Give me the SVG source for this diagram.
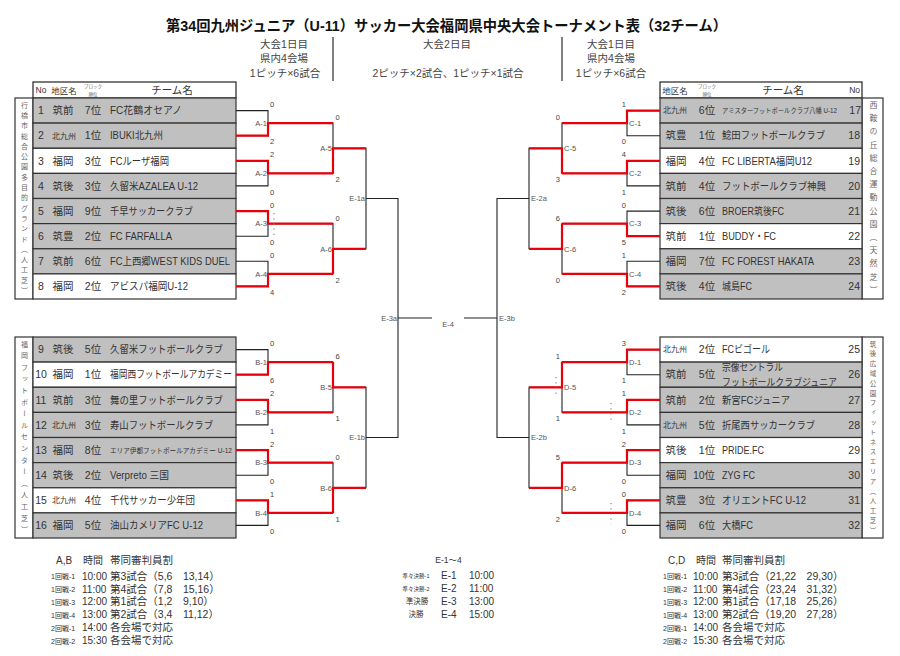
<svg xmlns="http://www.w3.org/2000/svg" width="900" height="656" viewBox="0 0 900 656">
<style>
text{font-family:"Liberation Sans","Noto Sans CJK JP",sans-serif;fill:#333}
.title{font-size:14.5px;font-weight:bold;fill:#111}
.sub{font-size:10.5px;fill:#444;text-anchor:middle}
.sep{stroke:#555;stroke-width:1.5}
.hd{fill:#fff;stroke:#222;stroke-width:1.2}
.g{fill:#c0c0c0;stroke:#333;stroke-width:1.2}
.w{fill:#fff;stroke:#333;stroke-width:1.2}
.c{font-size:10.5px}
.m{text-anchor:middle}
.e{text-anchor:end}
.kk{font-size:8px}
.tn{font-size:7px}
.hs{font-size:8.5px}
.hx{font-size:4.5px;fill:#666;text-anchor:middle}
.vt{writing-mode:vertical-rl;font-size:7px;fill:#666}
.blk{fill:none;stroke:#222;stroke-width:1.1}
.red{fill:none;stroke:#e8000b;stroke-width:2.2}
.sc{font-size:7.5px;fill:#444}
.ml{font-size:7.5px;fill:#555}
.pk{stroke:#888;stroke-width:1.2;stroke-dasharray:1.2 4}
.ft{font-size:10.5px}
.tm{font-size:10px}
.fs{font-size:7px}
</style>

<g id="header">
<text class="title" x="446.5" y="30.5" text-anchor="middle" textLength="561" lengthAdjust="spacingAndGlyphs">第34回九州ジュニア（U-11）サッカー大会福岡県中央大会トーナメント表（32チーム）</text>
<text class="sub" x="284" y="47.5">大会1日目</text>
<text class="sub" x="284" y="62">県内4会場</text>
<text class="sub" x="285" y="76.5">1ピッチ×6試合</text>
<text class="sub" x="447" y="47.5">大会2日目</text>
<text class="sub" x="448" y="76.5">2ピッチ×2試合、1ピッチ×1試合</text>
<text class="sub" x="611" y="47.5">大会1日目</text>
<text class="sub" x="611" y="62">県内4会場</text>
<text class="sub" x="611" y="76.5">1ピッチ×6試合</text>
<line class="sep" x1="333" y1="37" x2="333" y2="81"/>
<line class="sep" x1="562" y1="37" x2="562" y2="81"/>
</g>

<g id="table-head-left">
<rect class="hd" x="33" y="82" width="203" height="16"/>
<text class="hs" x="35.5" y="93">No</text>
<text class="hs m" x="64" y="93.5">地区名</text>
<text class="hx" x="93" y="87.5">ブロック</text>
<text class="hx" x="93" y="96">順位</text>
<text class="c m" x="172" y="94">チーム名</text>
</g>
<g id="table-head-right">
<rect class="hd" x="660" y="82" width="202" height="16"/>
<text class="hs m" x="675" y="93.5">地区名</text>
<text class="hx" x="707" y="87.5">ブロック</text>
<text class="hx" x="707" y="96">順位</text>
<text class="c m" x="783" y="94">チーム名</text>
<text class="hs e" x="860" y="93">No</text>
</g>

<g id="venue-a">
<rect class="w" x="15" y="98" width="18" height="201"/>
<text class="vt" x="24" y="101.5" style="letter-spacing:3.3px">行橋市総合公園多目的グランド（人工芝）</text>
</g>
<g id="venue-b">
<rect class="w" x="15" y="337" width="18" height="201"/>
<text class="vt" x="24" y="340.5" style="letter-spacing:4.6px">福岡フットボールセンター（人工芝）</text>
</g>
<g id="venue-c">
<rect class="w" x="862" y="98" width="21" height="201"/>
<text class="vt" x="872.5" y="101" style="letter-spacing:5.2px;font-size:8px">西鞍の丘総合運動公園（天然芝）</text>
</g>
<g id="venue-d">
<rect class="w" x="862" y="337" width="21" height="201"/>
<text class="vt" x="872.5" y="340.8" style="letter-spacing:3.3px;font-size:6.5px">筑後広域公園フィットネスエリア（人工芝）</text>
</g>

<!-- Left top teams -->
<g id="team-1"><rect class="g" x="33" y="98" width="203" height="25.1"/><text class="c m" x="41" y="114.3">1</text><text class="c m" x="63" y="114.3">筑前</text><text class="c m" x="93" y="114.3">7位</text><text class="c" x="110" y="114.3" textLength="72" lengthAdjust="spacingAndGlyphs">FC花鶴オセアノ</text></g>
<g id="team-2"><rect class="g" x="33" y="123.1" width="203" height="25.1"/><text class="c m" x="41" y="139.4">2</text><text class="kk m" x="64" y="138.5">北九州</text><text class="c m" x="93" y="139.4">1位</text><text class="c" x="110" y="139.4" textLength="53" lengthAdjust="spacingAndGlyphs">IBUKI北九州</text></g>
<g id="team-3"><rect class="w" x="33" y="148.3" width="203" height="25.1"/><text class="c m" x="41" y="164.5">3</text><text class="c m" x="63" y="164.5">福岡</text><text class="c m" x="93" y="164.5">3位</text><text class="c" x="110" y="164.5" textLength="59" lengthAdjust="spacingAndGlyphs">FCルーザ福岡</text></g>
<g id="team-4"><rect class="g" x="33" y="173.4" width="203" height="25.1"/><text class="c m" x="41" y="189.6">4</text><text class="c m" x="63" y="189.6">筑後</text><text class="c m" x="93" y="189.6">3位</text><text class="c" x="110" y="189.6" textLength="88" lengthAdjust="spacingAndGlyphs">久留米AZALEA U-12</text></g>
<g id="team-5"><rect class="g" x="33" y="198.5" width="203" height="25.1"/><text class="c m" x="41" y="214.8">5</text><text class="c m" x="63" y="214.8">福岡</text><text class="c m" x="93" y="214.8">9位</text><text class="c" x="110" y="214.8" textLength="83" lengthAdjust="spacingAndGlyphs">千早サッカークラブ</text></g>
<g id="team-6"><rect class="g" x="33" y="223.6" width="203" height="25.1"/><text class="c m" x="41" y="239.9">6</text><text class="c m" x="63" y="239.9">筑豊</text><text class="c m" x="93" y="239.9">2位</text><text class="c" x="110" y="239.9" textLength="62" lengthAdjust="spacingAndGlyphs">FC FARFALLA</text></g>
<g id="team-7"><rect class="g" x="33" y="248.8" width="203" height="25.1"/><text class="c m" x="41" y="265">7</text><text class="c m" x="63" y="265">筑前</text><text class="c m" x="93" y="265">6位</text><text class="c" x="110" y="265" textLength="120" lengthAdjust="spacingAndGlyphs">FC上西郷WEST KIDS DUEL</text></g>
<g id="team-8"><rect class="w" x="33" y="273.9" width="203" height="25.1"/><text class="c m" x="41" y="290.1">8</text><text class="c m" x="63" y="290.1">福岡</text><text class="c m" x="93" y="290.1">2位</text><text class="c" x="110" y="290.1" textLength="78" lengthAdjust="spacingAndGlyphs">アビスパ福岡U-12</text></g>

<!-- Left bottom teams -->
<g id="team-9"><rect class="g" x="33" y="337" width="203" height="25.1"/><text class="c m" x="41" y="353.3">9</text><text class="c m" x="63" y="353.3">筑後</text><text class="c m" x="93" y="353.3">5位</text><text class="c" x="110" y="353.3" textLength="113" lengthAdjust="spacingAndGlyphs">久留米フットボールクラブ</text></g>
<g id="team-10"><rect class="w" x="33" y="362.1" width="203" height="25.1"/><text class="c m" x="41" y="378.4">10</text><text class="c m" x="63" y="378.4">福岡</text><text class="c m" x="93" y="378.4">1位</text><text class="c" x="110" y="378.4" textLength="122" lengthAdjust="spacingAndGlyphs">福岡西フットボールアカデミー</text></g>
<g id="team-11"><rect class="g" x="33" y="387.3" width="203" height="25.1"/><text class="c m" x="41" y="403.5">11</text><text class="c m" x="63" y="403.5">筑前</text><text class="c m" x="93" y="403.5">3位</text><text class="c" x="110" y="403.5" textLength="113" lengthAdjust="spacingAndGlyphs">舞の里フットボールクラブ</text></g>
<g id="team-12"><rect class="g" x="33" y="412.4" width="203" height="25.1"/><text class="c m" x="41" y="428.6">12</text><text class="kk m" x="64" y="427.7">北九州</text><text class="c m" x="93" y="428.6">3位</text><text class="c" x="110" y="428.6" textLength="103" lengthAdjust="spacingAndGlyphs">寿山フットボールクラブ</text></g>
<g id="team-13"><rect class="g" x="33" y="437.5" width="203" height="25.1"/><text class="c m" x="41" y="453.8">13</text><text class="c m" x="63" y="453.8">福岡</text><text class="c m" x="93" y="453.8">8位</text><text class="tn" x="110" y="452.6" textLength="122" lengthAdjust="spacingAndGlyphs">エリア伊都フットボールアカデミー U-12</text></g>
<g id="team-14"><rect class="g" x="33" y="462.6" width="203" height="25.1"/><text class="c m" x="41" y="478.9">14</text><text class="c m" x="63" y="478.9">筑後</text><text class="c m" x="93" y="478.9">2位</text><text class="c" x="110" y="478.9" textLength="59" lengthAdjust="spacingAndGlyphs">Verpreto 三国</text></g>
<g id="team-15"><rect class="w" x="33" y="487.8" width="203" height="25.1"/><text class="c m" x="41" y="504">15</text><text class="kk m" x="64" y="503.1">北九州</text><text class="c m" x="93" y="504">4位</text><text class="c" x="110" y="504" textLength="85" lengthAdjust="spacingAndGlyphs">千代サッカー少年団</text></g>
<g id="team-16"><rect class="g" x="33" y="512.9" width="203" height="25.1"/><text class="c m" x="41" y="529.1">16</text><text class="c m" x="63" y="529.1">福岡</text><text class="c m" x="93" y="529.1">5位</text><text class="c" x="110" y="529.1" textLength="93" lengthAdjust="spacingAndGlyphs">油山カメリアFC U-12</text></g>

<!-- Right top teams -->
<g id="team-17"><rect class="g" x="660" y="98" width="202" height="25.1"/><text class="kk m" x="675" y="113.4">北九州</text><text class="c m" x="707" y="114.3">6位</text><text x="722" y="113" style="font-size:6.5px" textLength="115" lengthAdjust="spacingAndGlyphs">アミスターフットボールクラブ八幡 U-12</text><text class="c e" x="861" y="114.3">17</text></g>
<g id="team-18"><rect class="g" x="660" y="123.1" width="202" height="25.1"/><text class="c m" x="676" y="139.4">筑豊</text><text class="c m" x="707" y="139.4">1位</text><text class="c" x="722" y="139.4" textLength="103" lengthAdjust="spacingAndGlyphs">鯰田フットボールクラブ</text><text class="c e" x="860" y="139.4">18</text></g>
<g id="team-19"><rect class="w" x="660" y="148.3" width="202" height="25.1"/><text class="c m" x="676" y="164.5">福岡</text><text class="c m" x="707" y="164.5">4位</text><text class="c" x="722" y="164.5" textLength="90" lengthAdjust="spacingAndGlyphs">FC LIBERTA福岡U12</text><text class="c e" x="860" y="164.5">19</text></g>
<g id="team-20"><rect class="g" x="660" y="173.4" width="202" height="25.1"/><text class="c m" x="676" y="189.6">筑前</text><text class="c m" x="707" y="189.6">4位</text><text class="c" x="722" y="189.6" textLength="104" lengthAdjust="spacingAndGlyphs">フットボールクラブ神興</text><text class="c e" x="860" y="189.6">20</text></g>
<g id="team-21"><rect class="g" x="660" y="198.5" width="202" height="25.1"/><text class="c m" x="676" y="214.8">筑後</text><text class="c m" x="707" y="214.8">6位</text><text class="c" x="722" y="214.8" textLength="62" lengthAdjust="spacingAndGlyphs">BROER筑後FC</text><text class="c e" x="860" y="214.8">21</text></g>
<g id="team-22"><rect class="w" x="660" y="223.6" width="202" height="25.1"/><text class="c m" x="676" y="239.9">筑前</text><text class="c m" x="707" y="239.9">1位</text><text class="c" x="722" y="239.9" textLength="54" lengthAdjust="spacingAndGlyphs">BUDDY・FC</text><text class="c e" x="860" y="239.9">22</text></g>
<g id="team-23"><rect class="g" x="660" y="248.8" width="202" height="25.1"/><text class="c m" x="676" y="265">福岡</text><text class="c m" x="707" y="265">7位</text><text class="c" x="722" y="265" textLength="92" lengthAdjust="spacingAndGlyphs">FC FOREST HAKATA</text><text class="c e" x="860" y="265">23</text></g>
<g id="team-24"><rect class="g" x="660" y="273.9" width="202" height="25.1"/><text class="c m" x="676" y="290.1">筑後</text><text class="c m" x="707" y="290.1">4位</text><text class="c" x="722" y="290.1" textLength="30" lengthAdjust="spacingAndGlyphs">城島FC</text><text class="c e" x="860" y="290.1">24</text></g>

<!-- Right bottom teams -->
<g id="team-25"><rect class="w" x="660" y="337" width="202" height="25.1"/><text class="kk m" x="675" y="352.4">北九州</text><text class="c m" x="707" y="353.3">2位</text><text class="c" x="722" y="353.3" textLength="48" lengthAdjust="spacingAndGlyphs">FCビゴール</text><text class="c e" x="860" y="353.3">25</text></g>
<g id="team-26"><rect class="g" x="660" y="362.1" width="202" height="25.1"/><text class="c m" x="676" y="378.4">筑前</text><text class="c m" x="707" y="378.4">5位</text><text class="c" x="722" y="370.8" style="font-size:10px" textLength="61" lengthAdjust="spacingAndGlyphs">宗像セントラル</text><text class="c" x="722" y="385.6" style="font-size:10px" textLength="115" lengthAdjust="spacingAndGlyphs">フットボールクラブジュニア</text><text class="c e" x="860" y="378.4">26</text></g>
<g id="team-27"><rect class="g" x="660" y="387.3" width="202" height="25.1"/><text class="c m" x="676" y="403.5">筑前</text><text class="c m" x="707" y="403.5">2位</text><text class="c" x="722" y="403.5" textLength="68" lengthAdjust="spacingAndGlyphs">新宮FCジュニア</text><text class="c e" x="860" y="403.5">27</text></g>
<g id="team-28"><rect class="g" x="660" y="412.4" width="202" height="25.1"/><text class="kk m" x="675" y="427.7">北九州</text><text class="c m" x="707" y="428.6">5位</text><text class="c" x="722" y="428.6" textLength="93" lengthAdjust="spacingAndGlyphs">折尾西サッカークラブ</text><text class="c e" x="860" y="428.6">28</text></g>
<g id="team-29"><rect class="w" x="660" y="437.5" width="202" height="25.1"/><text class="c m" x="676" y="453.8">筑後</text><text class="c m" x="707" y="453.8">1位</text><text class="c" x="722" y="453.8" textLength="42" lengthAdjust="spacingAndGlyphs">PRIDE.FC</text><text class="c e" x="860" y="453.8">29</text></g>
<g id="team-30"><rect class="g" x="660" y="462.6" width="202" height="25.1"/><text class="c m" x="676" y="478.9">福岡</text><text class="c m" x="704" y="478.9">10位</text><text class="c" x="722" y="478.9" textLength="33" lengthAdjust="spacingAndGlyphs">ZYG FC</text><text class="c e" x="860" y="478.9">30</text></g>
<g id="team-31"><rect class="g" x="660" y="487.8" width="202" height="25.1"/><text class="c m" x="676" y="504">筑豊</text><text class="c m" x="707" y="504">3位</text><text class="c" x="722" y="504" textLength="84" lengthAdjust="spacingAndGlyphs">オリエントFC U-12</text><text class="c e" x="860" y="504">31</text></g>
<g id="team-32"><rect class="g" x="660" y="512.9" width="202" height="25.1"/><text class="c m" x="676" y="529.1">福岡</text><text class="c m" x="707" y="529.1">6位</text><text class="c" x="722" y="529.1" textLength="31" lengthAdjust="spacingAndGlyphs">大橋FC</text><text class="c e" x="860" y="529.1">32</text></g>

<g id="connectors">
<path class="blk" d="M236,110.6H268V135.7H236M236,160.8H268V185.9H236M236,211.1H268V236.2H236M236,261.3H268V286.4H236M268,123.1H333V173.4H268M268,223.6H333V273.9H268M333,148.3H366V248.8H333M366,198.5H398V437.5H366"/>
<path class="blk" d="M236,349.6H268V374.7H236M236,399.8H268V424.9H236M236,450.1H268V475.2H236M236,500.3H268V525.4H236M268,362.1H333V412.4H268M268,462.6H333V512.9H268M333,387.3H366V487.8H333"/>
<path class="blk" d="M398,318H432M464,318H497"/>
<path class="blk" d="M660,110.6H627V135.7H660M660,160.8H627V185.9H660M660,211.1H627V236.2H660M660,261.3H627V286.4H660M627,123.1H562V173.4H627M627,223.6H562V273.9H627M562,148.3H529V248.8H562M529,198.5H497V437.5H529"/>
<path class="blk" d="M660,349.6H627V374.7H660M660,399.8H627V424.9H660M660,450.1H627V475.2H660M660,500.3H627V525.4H660M627,362.1H562V412.4H627M627,462.6H562V512.9H627M562,387.3H529V487.8H562"/>
<path class="red" d="M236,135.7H268V123.1H333M236,160.8H268V173.4H333M236,211.1H268V223.6H333M236,286.4H268V273.9H333M333,173.4V148.3H366M333,273.9V248.8H366"/>
<path class="red" d="M236,374.7H268V362.1H333M236,399.8H268V412.4H333M236,450.1H268V462.6H333M236,500.3H268V512.9H333M333,362.1V387.3H366M333,512.9V487.8H366"/>
<path class="red" d="M660,110.6H627V123.1H562M660,160.8H627V173.4H562M660,236.2H627V223.6H562M660,286.4H627V273.9H562M562,173.4V148.3H529M562,223.6V248.8H529"/>
<path class="red" d="M660,349.6H627V362.1H562M660,399.8H627V412.4H562M660,450.1H627V462.6H562M660,500.3H627V512.9H562M562,362.1V387.3H529M562,462.6V487.8H529"/>
<line class="pk" x1="274" y1="213" x2="274" y2="235"/>
<line class="pk" x1="556" y1="377" x2="556" y2="397"/>
<line class="pk" x1="611" y1="403" x2="611" y2="423"/>
<line class="pk" x1="611" y1="503" x2="611" y2="524"/>
</g>

<g id="match-labels" class="ml">
<text class="ml e" x="267" y="125.8">A-1</text>
<text class="ml e" x="267" y="176.1">A-2</text>
<text class="ml e" x="267" y="226.3">A-3</text>
<text class="ml e" x="267" y="276.6">A-4</text>
<text class="ml e" x="332" y="151">A-5</text>
<text class="ml e" x="332" y="251.5">A-6</text>
<text class="ml e" x="365" y="201.2">E-1a</text>
<text class="ml e" x="267" y="364.8">B-1</text>
<text class="ml e" x="267" y="415.1">B-2</text>
<text class="ml e" x="267" y="465.3">B-3</text>
<text class="ml e" x="267" y="515.6">B-4</text>
<text class="ml e" x="332" y="390">B-5</text>
<text class="ml e" x="332" y="490.5">B-6</text>
<text class="ml e" x="365" y="440.2">E-1b</text>
<text class="ml e" x="397" y="320.7">E-3a</text>
<text class="ml m" x="448" y="326.5">E-4</text>
<text class="ml" x="499" y="320.7">E-3b</text>
<text class="ml" x="629" y="125.8">C-1</text>
<text class="ml" x="629" y="176.1">C-2</text>
<text class="ml" x="629" y="226.3">C-3</text>
<text class="ml" x="629" y="276.6">C-4</text>
<text class="ml" x="564" y="151">C-5</text>
<text class="ml" x="564" y="251.5">C-6</text>
<text class="ml" x="531" y="201.2">E-2a</text>
<text class="ml" x="629" y="364.8">D-1</text>
<text class="ml" x="629" y="415.1">D-2</text>
<text class="ml" x="629" y="465.3">D-3</text>
<text class="ml" x="629" y="515.6">D-4</text>
<text class="ml" x="564" y="390">D-5</text>
<text class="ml" x="564" y="490.5">D-6</text>
<text class="ml" x="531" y="440.2">E-2b</text>
</g>

<g id="scores">
<text class="sc" x="270" y="107">0</text><text class="sc" x="270" y="144.4">2</text>
<text class="sc" x="270" y="157.2">2</text><text class="sc" x="270" y="194.6">0</text>
<text class="sc" x="270" y="207.5">0</text><text class="sc" x="270" y="244.9">0</text>
<text class="sc" x="270" y="257.7">0</text><text class="sc" x="270" y="295.1">4</text>
<text class="sc" x="335.5" y="120.4">0</text><text class="sc" x="335.5" y="182">2</text>
<text class="sc" x="335.5" y="220.9">0</text><text class="sc" x="335.5" y="282.5">2</text>
<text class="sc" x="270" y="346">0</text><text class="sc" x="270" y="383.4">6</text>
<text class="sc" x="270" y="396.2">2</text><text class="sc" x="270" y="433.6">1</text>
<text class="sc" x="270" y="446.5">2</text><text class="sc" x="270" y="483.9">0</text>
<text class="sc" x="270" y="496.7">1</text><text class="sc" x="270" y="534.1">0</text>
<text class="sc" x="335.5" y="359.4">6</text><text class="sc" x="335.5" y="421">1</text>
<text class="sc" x="335.5" y="459.9">0</text><text class="sc" x="335.5" y="521.5">1</text>
<text class="sc e" x="626" y="107">1</text><text class="sc e" x="626" y="144.4">0</text>
<text class="sc e" x="626" y="157.2">4</text><text class="sc e" x="626" y="194.6">1</text>
<text class="sc e" x="626" y="207.5">0</text><text class="sc e" x="626" y="244.9">5</text>
<text class="sc e" x="626" y="257.7">1</text><text class="sc e" x="626" y="295.1">2</text>
<text class="sc e" x="560" y="120.4">0</text><text class="sc e" x="560" y="182">3</text>
<text class="sc e" x="560" y="220.9">6</text><text class="sc e" x="560" y="282.5">0</text>
<text class="sc e" x="626" y="346">3</text><text class="sc e" x="626" y="383.4">1</text>
<text class="sc e" x="626" y="396.2">1</text><text class="sc e" x="626" y="433.6">1</text>
<text class="sc e" x="626" y="446.5">2</text><text class="sc e" x="626" y="483.9">0</text>
<text class="sc e" x="626" y="496.7">0</text><text class="sc e" x="626" y="534.1">0</text>
<text class="sc e" x="560" y="359.4">1</text><text class="sc e" x="560" y="421">1</text>
<text class="sc e" x="560" y="459.9">5</text><text class="sc e" x="560" y="521.5">2</text>
</g>

<g id="schedule-ab">
<text class="tm" x="56" y="564">A,B</text>
<text class="tm" x="83" y="564">時間</text>
<text class="ft" x="110" y="564">帯同審判員割</text>
<text class="fs" x="51" y="579">1回戦-1</text><text class="tm" x="82" y="579.5">10:00</text><text class="ft" x="110" y="579.5">第3試合（5,6　13,14）</text>
<text class="fs" x="51" y="592">1回戦-2</text><text class="tm" x="82" y="592.5">11:00</text><text class="ft" x="110" y="592.5">第4試合（7,8　15,16）</text>
<text class="fs" x="51" y="604.5">1回戦-3</text><text class="tm" x="82" y="605">12:00</text><text class="ft" x="110" y="605">第1試合（1,2　9,10）</text>
<text class="fs" x="51" y="617.5">1回戦-4</text><text class="tm" x="82" y="618">13:00</text><text class="ft" x="110" y="618">第2試合（3,4　11,12）</text>
<text class="fs" x="51" y="630.5">2回戦-1</text><text class="tm" x="82" y="631">14:00</text><text class="ft" x="110" y="631">各会場で対応</text>
<text class="fs" x="51" y="643.5">2回戦-2</text><text class="tm" x="82" y="644">15:30</text><text class="ft" x="110" y="644">各会場で対応</text>
</g>

<g id="schedule-e">
<text class="m" x="448.5" y="563" style="font-size:8.5px">E-1～4</text>
<text class="m" x="416" y="577.5" style="font-size:5.5px">準々決勝-1</text><text class="tm" x="441" y="578.5">E-1</text><text class="tm" x="469" y="578.5">10:00</text>
<text class="m" x="416" y="590.5" style="font-size:5.5px">準々決勝-2</text><text class="tm" x="441" y="591.5">E-2</text><text class="tm" x="469" y="591.5">11:00</text>
<text class="m" x="417" y="604" style="font-size:7.5px">準決勝</text><text class="tm" x="441" y="604.5">E-3</text><text class="tm" x="469" y="604.5">13:00</text>
<text class="m" x="416" y="617" style="font-size:7.5px">決勝</text><text class="tm" x="441" y="617.5">E-4</text><text class="tm" x="469" y="617.5">15:00</text>
</g>

<g id="schedule-cd">
<text class="tm" x="668" y="564">C,D</text>
<text class="tm" x="696" y="564">時間</text>
<text class="ft" x="722" y="564">帯同審判員割</text>
<text class="fs" x="663" y="579">1回戦-1</text><text class="tm" x="693" y="579.5">10:00</text><text class="ft" x="722" y="579.5">第3試合（21,22　29,30）</text>
<text class="fs" x="663" y="592">1回戦-2</text><text class="tm" x="693" y="592.5">11:00</text><text class="ft" x="722" y="592.5">第4試合（23,24　31,32）</text>
<text class="fs" x="663" y="604.5">1回戦-3</text><text class="tm" x="693" y="605">12:00</text><text class="ft" x="722" y="605">第1試合（17,18　25,26）</text>
<text class="fs" x="663" y="617.5">1回戦-4</text><text class="tm" x="693" y="618">13:00</text><text class="ft" x="722" y="618">第2試合（19,20　27,28）</text>
<text class="fs" x="663" y="630.5">2回戦-1</text><text class="tm" x="693" y="631">14:00</text><text class="ft" x="722" y="631">各会場で対応</text>
<text class="fs" x="663" y="643.5">2回戦-2</text><text class="tm" x="693" y="644">15:30</text><text class="ft" x="722" y="644">各会場で対応</text>
</g>
</svg>
